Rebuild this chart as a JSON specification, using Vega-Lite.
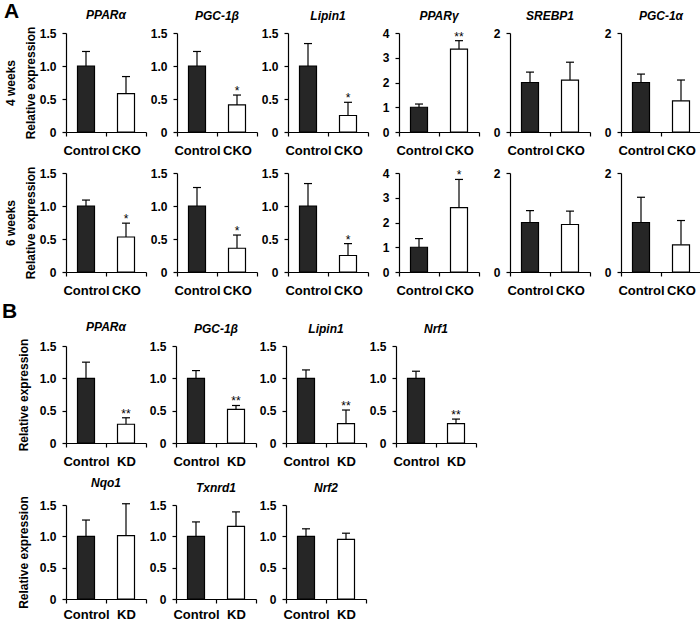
{
  "$schema": "https://vega.github.io/schema/vega-lite/v6.json",
  "padding": {"left": 2, "top": 1, "right": 0, "bottom": 0},
  "config": {
    "view": {"stroke": null},
    "font": "Liberation Sans",
    "scale": {"bandPaddingInner": 0, "bandPaddingOuter": 0},
    "axis": {"domainColor": "black", "tickColor": "black", "domainWidth": 1.2, "tickWidth": 1.2, "tickSize": 4, "labelFont": "Liberation Sans", "labelFontWeight": "bold", "labelColor": "black", "grid": false, "titleFont": "Liberation Sans", "titleFontWeight": "bold", "titleColor": "black", "titleFontSize": 12},
    "axisX": {"labelFontSize": 13, "labelAngle": 0, "labelPadding": 8, "tickBand": "extent"},
    "axisY": {"labelFontSize": 12, "labelPadding": 6, "titlePadding": 8, "titleLineHeight": 20, "labelExpr": "datum.value == 0 ? '0' : datum.label"},
    "title": {"font": "Liberation Sans", "fontSize": 12, "fontWeight": "bold", "fontStyle": "italic", "color": "black", "baseline": "bottom", "offset": 4, "frame": "group", "anchor": "middle"},
    "bar": {"stroke": "black", "strokeWidth": 1.2},
    "rule": {"color": "black", "strokeWidth": 1.2},
    "point": {"shape": "stroke", "size": 64, "filled": false, "strokeWidth": 1.2, "color": "black", "opacity": 1},
    "text": {"font": "Liberation Sans", "fontSize": 12, "color": "black", "baseline": "alphabetic", "dy": 0}
  },
  "datasets": {
    "d": [
      {"p": "a1", "c": "Control", "v": 1.0, "u": 1.22, "s": ""},
      {"p": "a1", "c": "CKO", "v": 0.58, "u": 0.84, "s": ""},
      {"p": "a2", "c": "Control", "v": 1.0, "u": 1.22, "s": ""},
      {"p": "a2", "c": "CKO", "v": 0.41, "u": 0.56, "s": "*"},
      {"p": "a3", "c": "Control", "v": 1.0, "u": 1.34, "s": ""},
      {"p": "a3", "c": "CKO", "v": 0.25, "u": 0.45, "s": "*"},
      {"p": "a4", "c": "Control", "v": 1.0, "u": 1.13, "s": ""},
      {"p": "a4", "c": "CKO", "v": 3.35, "u": 3.69, "s": "**"},
      {"p": "a5", "c": "Control", "v": 1.0, "u": 1.21, "s": ""},
      {"p": "a5", "c": "CKO", "v": 1.05, "u": 1.41, "s": ""},
      {"p": "a6", "c": "Control", "v": 1.0, "u": 1.17, "s": ""},
      {"p": "a6", "c": "CKO", "v": 0.63, "u": 1.05, "s": ""},
      {"p": "b1", "c": "Control", "v": 1.0, "u": 1.09, "s": ""},
      {"p": "b1", "c": "CKO", "v": 0.53, "u": 0.74, "s": "*"},
      {"p": "b2", "c": "Control", "v": 1.0, "u": 1.28, "s": ""},
      {"p": "b2", "c": "CKO", "v": 0.36, "u": 0.56, "s": "*"},
      {"p": "b3", "c": "Control", "v": 1.0, "u": 1.34, "s": ""},
      {"p": "b3", "c": "CKO", "v": 0.25, "u": 0.43, "s": "*"},
      {"p": "b4", "c": "Control", "v": 1.0, "u": 1.35, "s": ""},
      {"p": "b4", "c": "CKO", "v": 2.6, "u": 3.74, "s": "*"},
      {"p": "b5", "c": "Control", "v": 1.0, "u": 1.24, "s": ""},
      {"p": "b5", "c": "CKO", "v": 0.96, "u": 1.23, "s": ""},
      {"p": "b6", "c": "Control", "v": 1.0, "u": 1.51, "s": ""},
      {"p": "b6", "c": "CKO", "v": 0.55, "u": 1.04, "s": ""},
      {"p": "c1", "c": "Control", "v": 1.0, "u": 1.25, "s": ""},
      {"p": "c1", "c": "KD", "v": 0.29, "u": 0.39, "s": "**"},
      {"p": "c2", "c": "Control", "v": 1.0, "u": 1.12, "s": ""},
      {"p": "c2", "c": "KD", "v": 0.52, "u": 0.58, "s": "**"},
      {"p": "c3", "c": "Control", "v": 1.0, "u": 1.13, "s": ""},
      {"p": "c3", "c": "KD", "v": 0.30, "u": 0.51, "s": "**"},
      {"p": "c4", "c": "Control", "v": 1.0, "u": 1.11, "s": ""},
      {"p": "c4", "c": "KD", "v": 0.30, "u": 0.37, "s": "**"},
      {"p": "d1", "c": "Control", "v": 1.0, "u": 1.26, "s": ""},
      {"p": "d1", "c": "KD", "v": 1.01, "u": 1.52, "s": ""},
      {"p": "d2", "c": "Control", "v": 1.0, "u": 1.23, "s": ""},
      {"p": "d2", "c": "KD", "v": 1.16, "u": 1.39, "s": ""},
      {"p": "d3", "c": "Control", "v": 1.0, "u": 1.12, "s": ""},
      {"p": "d3", "c": "KD", "v": 0.95, "u": 1.05, "s": ""}
    ]
  },
  "data": {"name": "d"},
  "spacing": 4,
  "vconcat": [
    {
      "title": {"text": "A", "anchor": "start", "frame": "bounds", "fontSize": 21, "fontStyle": "normal", "fontWeight": "bold", "baseline": "bottom", "offset": -12, "dy": 22},
      "spacing": 9,
      "vconcat": [
        {
          "spacing": 31, "bounds": "flush",
          "hconcat": [
            {"width": 80, "height": 99, "title": "PPARα", "transform": [{"filter": "datum.p=='a1'"}],
             "encoding": {"x": {"field": "c", "type": "nominal", "sort": null, "title": null},
               "y": {"field": "v", "type": "quantitative", "scale": {"domain": [0, 1.5], "nice": false}, "axis": {"title": ["4 weeks", "Relative expression"], "values": [0, 0.5, 1, 1.5], "format": ".1f", "minExtent": 21, "maxExtent": 21}}},
             "layer": [
               {"mark": "rule", "encoding": {"y2": {"field": "u"}}},
               {"mark": {"type": "bar", "width": 17}, "encoding": {"fill": {"condition": {"test": "datum.c=='Control'", "value": "#262626"}, "value": "white"}}},
               {"mark": "point", "encoding": {"y": {"field": "u", "type": "quantitative"}}},
               {"mark": "text", "encoding": {"y": {"field": "u", "type": "quantitative"}, "text": {"field": "s"}}}
             ]},
            {"width": 80, "height": 99, "title": "PGC-1β", "transform": [{"filter": "datum.p=='a2'"}],
             "encoding": {"x": {"field": "c", "type": "nominal", "sort": null, "title": null},
               "y": {"field": "v", "type": "quantitative", "scale": {"domain": [0, 1.5], "nice": false}, "axis": {"title": null, "values": [0, 0.5, 1, 1.5], "format": ".1f"}}},
             "layer": [
               {"mark": "rule", "encoding": {"y2": {"field": "u"}}},
               {"mark": {"type": "bar", "width": 17}, "encoding": {"fill": {"condition": {"test": "datum.c=='Control'", "value": "#262626"}, "value": "white"}}},
               {"mark": "point", "encoding": {"y": {"field": "u", "type": "quantitative"}}},
               {"mark": "text", "encoding": {"y": {"field": "u", "type": "quantitative"}, "text": {"field": "s"}}}
             ]},
            {"width": 80, "height": 99, "title": "Lipin1", "transform": [{"filter": "datum.p=='a3'"}],
             "encoding": {"x": {"field": "c", "type": "nominal", "sort": null, "title": null},
               "y": {"field": "v", "type": "quantitative", "scale": {"domain": [0, 1.5], "nice": false}, "axis": {"title": null, "values": [0, 0.5, 1, 1.5], "format": ".1f"}}},
             "layer": [
               {"mark": "rule", "encoding": {"y2": {"field": "u"}}},
               {"mark": {"type": "bar", "width": 17}, "encoding": {"fill": {"condition": {"test": "datum.c=='Control'", "value": "#262626"}, "value": "white"}}},
               {"mark": "point", "encoding": {"y": {"field": "u", "type": "quantitative"}}},
               {"mark": "text", "encoding": {"y": {"field": "u", "type": "quantitative"}, "text": {"field": "s"}}}
             ]},
            {"width": 80, "height": 99, "title": "PPARγ", "transform": [{"filter": "datum.p=='a4'"}],
             "encoding": {"x": {"field": "c", "type": "nominal", "sort": null, "title": null},
               "y": {"field": "v", "type": "quantitative", "scale": {"domain": [0, 4], "nice": false}, "axis": {"title": null, "values": [0, 1, 2, 3, 4], "format": "d"}}},
             "layer": [
               {"mark": "rule", "encoding": {"y2": {"field": "u"}}},
               {"mark": {"type": "bar", "width": 17}, "encoding": {"fill": {"condition": {"test": "datum.c=='Control'", "value": "#262626"}, "value": "white"}}},
               {"mark": "point", "encoding": {"y": {"field": "u", "type": "quantitative"}}},
               {"mark": "text", "encoding": {"y": {"field": "u", "type": "quantitative"}, "text": {"field": "s"}}}
             ]},
            {"width": 80, "height": 99, "title": "SREBP1", "transform": [{"filter": "datum.p=='a5'"}],
             "encoding": {"x": {"field": "c", "type": "nominal", "sort": null, "title": null},
               "y": {"field": "v", "type": "quantitative", "scale": {"domain": [0, 2], "nice": false}, "axis": {"title": null, "values": [0, 1, 2], "format": "d"}}},
             "layer": [
               {"mark": "rule", "encoding": {"y2": {"field": "u"}}},
               {"mark": {"type": "bar", "width": 17}, "encoding": {"fill": {"condition": {"test": "datum.c=='Control'", "value": "#262626"}, "value": "white"}}},
               {"mark": "point", "encoding": {"y": {"field": "u", "type": "quantitative"}}},
               {"mark": "text", "encoding": {"y": {"field": "u", "type": "quantitative"}, "text": {"field": "s"}}}
             ]},
            {"width": 80, "height": 99, "title": "PGC-1α", "transform": [{"filter": "datum.p=='a6'"}],
             "encoding": {"x": {"field": "c", "type": "nominal", "sort": null, "title": null},
               "y": {"field": "v", "type": "quantitative", "scale": {"domain": [0, 2], "nice": false}, "axis": {"title": null, "values": [0, 1, 2], "format": "d"}}},
             "layer": [
               {"mark": "rule", "encoding": {"y2": {"field": "u"}}},
               {"mark": {"type": "bar", "width": 17}, "encoding": {"fill": {"condition": {"test": "datum.c=='Control'", "value": "#262626"}, "value": "white"}}},
               {"mark": "point", "encoding": {"y": {"field": "u", "type": "quantitative"}}},
               {"mark": "text", "encoding": {"y": {"field": "u", "type": "quantitative"}, "text": {"field": "s"}}}
             ]}
          ]
        },
        {
          "spacing": 31, "bounds": "flush",
          "hconcat": [
            {"width": 80, "height": 99, "transform": [{"filter": "datum.p=='b1'"}],
             "encoding": {"x": {"field": "c", "type": "nominal", "sort": null, "title": null},
               "y": {"field": "v", "type": "quantitative", "scale": {"domain": [0, 1.5], "nice": false}, "axis": {"title": ["6 weeks", "Relative expression"], "values": [0, 0.5, 1, 1.5], "format": ".1f", "minExtent": 21, "maxExtent": 21}}},
             "layer": [
               {"mark": "rule", "encoding": {"y2": {"field": "u"}}},
               {"mark": {"type": "bar", "width": 17}, "encoding": {"fill": {"condition": {"test": "datum.c=='Control'", "value": "#262626"}, "value": "white"}}},
               {"mark": "point", "encoding": {"y": {"field": "u", "type": "quantitative"}}},
               {"mark": "text", "encoding": {"y": {"field": "u", "type": "quantitative"}, "text": {"field": "s"}}}
             ]},
            {"width": 80, "height": 99, "transform": [{"filter": "datum.p=='b2'"}],
             "encoding": {"x": {"field": "c", "type": "nominal", "sort": null, "title": null},
               "y": {"field": "v", "type": "quantitative", "scale": {"domain": [0, 1.5], "nice": false}, "axis": {"title": null, "values": [0, 0.5, 1, 1.5], "format": ".1f"}}},
             "layer": [
               {"mark": "rule", "encoding": {"y2": {"field": "u"}}},
               {"mark": {"type": "bar", "width": 17}, "encoding": {"fill": {"condition": {"test": "datum.c=='Control'", "value": "#262626"}, "value": "white"}}},
               {"mark": "point", "encoding": {"y": {"field": "u", "type": "quantitative"}}},
               {"mark": "text", "encoding": {"y": {"field": "u", "type": "quantitative"}, "text": {"field": "s"}}}
             ]},
            {"width": 80, "height": 99, "transform": [{"filter": "datum.p=='b3'"}],
             "encoding": {"x": {"field": "c", "type": "nominal", "sort": null, "title": null},
               "y": {"field": "v", "type": "quantitative", "scale": {"domain": [0, 1.5], "nice": false}, "axis": {"title": null, "values": [0, 0.5, 1, 1.5], "format": ".1f"}}},
             "layer": [
               {"mark": "rule", "encoding": {"y2": {"field": "u"}}},
               {"mark": {"type": "bar", "width": 17}, "encoding": {"fill": {"condition": {"test": "datum.c=='Control'", "value": "#262626"}, "value": "white"}}},
               {"mark": "point", "encoding": {"y": {"field": "u", "type": "quantitative"}}},
               {"mark": "text", "encoding": {"y": {"field": "u", "type": "quantitative"}, "text": {"field": "s"}}}
             ]},
            {"width": 80, "height": 99, "transform": [{"filter": "datum.p=='b4'"}],
             "encoding": {"x": {"field": "c", "type": "nominal", "sort": null, "title": null},
               "y": {"field": "v", "type": "quantitative", "scale": {"domain": [0, 4], "nice": false}, "axis": {"title": null, "values": [0, 1, 2, 3, 4], "format": "d"}}},
             "layer": [
               {"mark": "rule", "encoding": {"y2": {"field": "u"}}},
               {"mark": {"type": "bar", "width": 17}, "encoding": {"fill": {"condition": {"test": "datum.c=='Control'", "value": "#262626"}, "value": "white"}}},
               {"mark": "point", "encoding": {"y": {"field": "u", "type": "quantitative"}}},
               {"mark": "text", "encoding": {"y": {"field": "u", "type": "quantitative"}, "text": {"field": "s"}}}
             ]},
            {"width": 80, "height": 99, "transform": [{"filter": "datum.p=='b5'"}],
             "encoding": {"x": {"field": "c", "type": "nominal", "sort": null, "title": null},
               "y": {"field": "v", "type": "quantitative", "scale": {"domain": [0, 2], "nice": false}, "axis": {"title": null, "values": [0, 1, 2], "format": "d"}}},
             "layer": [
               {"mark": "rule", "encoding": {"y2": {"field": "u"}}},
               {"mark": {"type": "bar", "width": 17}, "encoding": {"fill": {"condition": {"test": "datum.c=='Control'", "value": "#262626"}, "value": "white"}}},
               {"mark": "point", "encoding": {"y": {"field": "u", "type": "quantitative"}}},
               {"mark": "text", "encoding": {"y": {"field": "u", "type": "quantitative"}, "text": {"field": "s"}}}
             ]},
            {"width": 80, "height": 99, "transform": [{"filter": "datum.p=='b6'"}],
             "encoding": {"x": {"field": "c", "type": "nominal", "sort": null, "title": null},
               "y": {"field": "v", "type": "quantitative", "scale": {"domain": [0, 2], "nice": false}, "axis": {"title": null, "values": [0, 1, 2], "format": "d"}}},
             "layer": [
               {"mark": "rule", "encoding": {"y2": {"field": "u"}}},
               {"mark": {"type": "bar", "width": 17}, "encoding": {"fill": {"condition": {"test": "datum.c=='Control'", "value": "#262626"}, "value": "white"}}},
               {"mark": "point", "encoding": {"y": {"field": "u", "type": "quantitative"}}},
               {"mark": "text", "encoding": {"y": {"field": "u", "type": "quantitative"}, "text": {"field": "s"}}}
             ]}
          ]
        }
      ]
    },
    {
      "title": {"text": "B", "anchor": "start", "frame": "bounds", "fontSize": 21, "fontStyle": "normal", "fontWeight": "bold", "baseline": "bottom", "offset": 0, "dy": 22},
      "spacing": 8,
      "vconcat": [
        {
          "spacing": 30, "bounds": "flush",
          "hconcat": [
            {"width": 80, "height": 97, "title": "PPARα", "transform": [{"filter": "datum.p=='c1'"}],
             "encoding": {"x": {"field": "c", "type": "nominal", "sort": null, "title": null},
               "y": {"field": "v", "type": "quantitative", "scale": {"domain": [0, 1.5], "nice": false}, "axis": {"title": ["", "Relative expression"], "titlePadding": 13, "titleLineHeight": 15, "values": [0, 0.5, 1, 1.5], "format": ".1f", "minExtent": 23, "maxExtent": 23}}},
             "layer": [
               {"mark": "rule", "encoding": {"y2": {"field": "u"}}},
               {"mark": {"type": "bar", "width": 17}, "encoding": {"fill": {"condition": {"test": "datum.c=='Control'", "value": "#262626"}, "value": "white"}}},
               {"mark": "point", "encoding": {"y": {"field": "u", "type": "quantitative"}}},
               {"mark": "text", "encoding": {"y": {"field": "u", "type": "quantitative"}, "text": {"field": "s"}}}
             ]},
            {"width": 80, "height": 97, "title": "PGC-1β", "transform": [{"filter": "datum.p=='c2'"}],
             "encoding": {"x": {"field": "c", "type": "nominal", "sort": null, "title": null},
               "y": {"field": "v", "type": "quantitative", "scale": {"domain": [0, 1.5], "nice": false}, "axis": {"title": null, "values": [0, 0.5, 1, 1.5], "format": ".1f"}}},
             "layer": [
               {"mark": "rule", "encoding": {"y2": {"field": "u"}}},
               {"mark": {"type": "bar", "width": 17}, "encoding": {"fill": {"condition": {"test": "datum.c=='Control'", "value": "#262626"}, "value": "white"}}},
               {"mark": "point", "encoding": {"y": {"field": "u", "type": "quantitative"}}},
               {"mark": "text", "encoding": {"y": {"field": "u", "type": "quantitative"}, "text": {"field": "s"}}}
             ]},
            {"width": 80, "height": 97, "title": "Lipin1", "transform": [{"filter": "datum.p=='c3'"}],
             "encoding": {"x": {"field": "c", "type": "nominal", "sort": null, "title": null},
               "y": {"field": "v", "type": "quantitative", "scale": {"domain": [0, 1.5], "nice": false}, "axis": {"title": null, "values": [0, 0.5, 1, 1.5], "format": ".1f"}}},
             "layer": [
               {"mark": "rule", "encoding": {"y2": {"field": "u"}}},
               {"mark": {"type": "bar", "width": 17}, "encoding": {"fill": {"condition": {"test": "datum.c=='Control'", "value": "#262626"}, "value": "white"}}},
               {"mark": "point", "encoding": {"y": {"field": "u", "type": "quantitative"}}},
               {"mark": "text", "encoding": {"y": {"field": "u", "type": "quantitative"}, "text": {"field": "s"}}}
             ]},
            {"width": 80, "height": 97, "title": "Nrf1", "transform": [{"filter": "datum.p=='c4'"}],
             "encoding": {"x": {"field": "c", "type": "nominal", "sort": null, "title": null},
               "y": {"field": "v", "type": "quantitative", "scale": {"domain": [0, 1.5], "nice": false}, "axis": {"title": null, "values": [0, 0.5, 1, 1.5], "format": ".1f"}}},
             "layer": [
               {"mark": "rule", "encoding": {"y2": {"field": "u"}}},
               {"mark": {"type": "bar", "width": 17}, "encoding": {"fill": {"condition": {"test": "datum.c=='Control'", "value": "#262626"}, "value": "white"}}},
               {"mark": "point", "encoding": {"y": {"field": "u", "type": "quantitative"}}},
               {"mark": "text", "encoding": {"y": {"field": "u", "type": "quantitative"}, "text": {"field": "s"}}}
             ]}
          ]
        },
        {
          "spacing": 30, "bounds": "flush",
          "hconcat": [
            {"width": 80, "height": 94, "title": "Nqo1", "transform": [{"filter": "datum.p=='d1'"}],
             "encoding": {"x": {"field": "c", "type": "nominal", "sort": null, "title": null, "axis": {"labelPadding": 5}},
               "y": {"field": "v", "type": "quantitative", "scale": {"domain": [0, 1.5], "nice": false}, "axis": {"title": ["", "Relative expression"], "titlePadding": 13, "titleLineHeight": 15, "values": [0, 0.5, 1, 1.5], "format": ".1f", "minExtent": 23, "maxExtent": 23}}},
             "layer": [
               {"mark": "rule", "encoding": {"y2": {"field": "u"}}},
               {"mark": {"type": "bar", "width": 17}, "encoding": {"fill": {"condition": {"test": "datum.c=='Control'", "value": "#262626"}, "value": "white"}}},
               {"mark": "point", "encoding": {"y": {"field": "u", "type": "quantitative"}}},
               {"mark": "text", "encoding": {"y": {"field": "u", "type": "quantitative"}, "text": {"field": "s"}}}
             ]},
            {"width": 80, "height": 94, "title": "Txnrd1", "transform": [{"filter": "datum.p=='d2'"}],
             "encoding": {"x": {"field": "c", "type": "nominal", "sort": null, "title": null, "axis": {"labelPadding": 5}},
               "y": {"field": "v", "type": "quantitative", "scale": {"domain": [0, 1.5], "nice": false}, "axis": {"title": null, "values": [0, 0.5, 1, 1.5], "format": ".1f"}}},
             "layer": [
               {"mark": "rule", "encoding": {"y2": {"field": "u"}}},
               {"mark": {"type": "bar", "width": 17}, "encoding": {"fill": {"condition": {"test": "datum.c=='Control'", "value": "#262626"}, "value": "white"}}},
               {"mark": "point", "encoding": {"y": {"field": "u", "type": "quantitative"}}},
               {"mark": "text", "encoding": {"y": {"field": "u", "type": "quantitative"}, "text": {"field": "s"}}}
             ]},
            {"width": 80, "height": 94, "title": "Nrf2", "transform": [{"filter": "datum.p=='d3'"}],
             "encoding": {"x": {"field": "c", "type": "nominal", "sort": null, "title": null, "axis": {"labelPadding": 5}},
               "y": {"field": "v", "type": "quantitative", "scale": {"domain": [0, 1.5], "nice": false}, "axis": {"title": null, "values": [0, 0.5, 1, 1.5], "format": ".1f"}}},
             "layer": [
               {"mark": "rule", "encoding": {"y2": {"field": "u"}}},
               {"mark": {"type": "bar", "width": 17}, "encoding": {"fill": {"condition": {"test": "datum.c=='Control'", "value": "#262626"}, "value": "white"}}},
               {"mark": "point", "encoding": {"y": {"field": "u", "type": "quantitative"}}},
               {"mark": "text", "encoding": {"y": {"field": "u", "type": "quantitative"}, "text": {"field": "s"}}}
             ]}
          ]
        }
      ]
    }
  ]
}
